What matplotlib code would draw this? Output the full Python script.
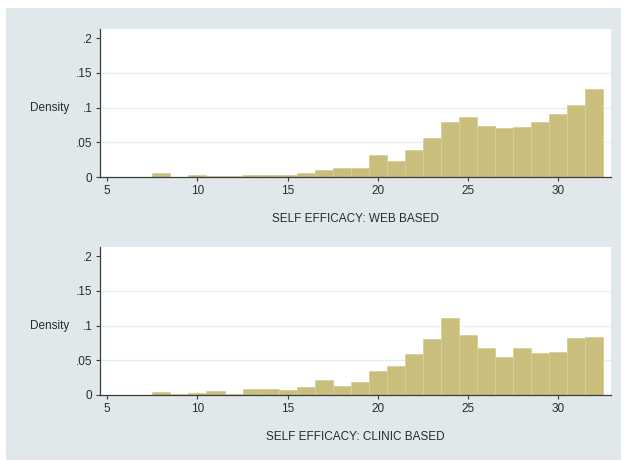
import matplotlib
matplotlib.use("Agg")
import matplotlib.pyplot as plt
from matplotlib.patches import Rectangle

plt.rcParams['font.family'] = ['Liberation Sans', 'DejaVu Sans']

# histogram bins (width 1), centres 8..32
bin_centers = [8, 9, 10, 11, 12, 13, 14, 15, 16, 17, 18, 19, 20,
               21, 22, 23, 24, 25, 26, 27, 28, 29, 30, 31, 32]

web_density = [0.0063, 0.0, 0.003, 0.0015, 0.0015, 0.0025, 0.0025, 0.0025,
               0.0058, 0.0096, 0.013, 0.013, 0.031, 0.023, 0.039, 0.056,
               0.079, 0.086, 0.074, 0.070, 0.072, 0.079, 0.091, 0.103, 0.126]

clinic_density = [0.0048, 0.002, 0.0034, 0.0058, 0.001, 0.0082, 0.009, 0.0067,
                  0.011, 0.022, 0.013, 0.019, 0.034, 0.042, 0.059, 0.080,
                  0.111, 0.086, 0.067, 0.055, 0.067, 0.061, 0.062, 0.082, 0.084]

x_ticks = [5, 10, 15, 20, 25, 30]
y_ticks = [0, 0.05, 0.1, 0.15, 0.2]
y_ticklabels = ['0', '.05', '.1', '.15', '.2']

panels = [
    (web_density, 'SELF EFFICACY: WEB BASED', 0.616),
    (clinic_density, 'SELF EFFICACY: CLINIC BASED', 0.1432),
]

W, H = 626, 461
fig = plt.figure(figsize=(W / 100, H / 100), dpi=100)
fig.patch.set_facecolor('white')
# light grey-blue graph region
fig.patches.append(Rectangle((6 / W, 1 - 460 / H), 615 / W, 452 / H,
                             transform=fig.transFigure, facecolor='#e0e8ec',
                             edgecolor='none', zorder=-10))

bar_color = '#c9be7b'
axis_color = '#3c3c3c'
text_color = '#2a2a2a'
fs = 8.5
ymax = 0.213

for dens, label, bottom in panels:
    ax = fig.add_axes([100 / W, bottom, 511 / W, 148 / H])
    ax.set_facecolor('white')
    for y in [0.05, 0.1, 0.15]:
        ax.axhline(y, color='#e6eef1', lw=1.0, zorder=1)
    ax.bar(bin_centers, dens, width=1.0, color=bar_color,
           edgecolor='#d7cf99', linewidth=0.6, zorder=2)
    ax.set_xlim(4.6, 32.92)
    ax.set_ylim(0, ymax)
    ax.set_xticks(x_ticks)
    ax.set_yticks(y_ticks)
    ax.set_yticklabels(y_ticklabels)
    ax.spines['top'].set_visible(False)
    ax.spines['right'].set_visible(False)
    for s in ['left', 'bottom']:
        ax.spines[s].set_color(axis_color)
        ax.spines[s].set_linewidth(0.9)
    ax.tick_params(axis='both', length=3, width=0.8, color=axis_color,
                   labelsize=fs, labelcolor=text_color, pad=2.5)
    ax.set_xlabel(label, fontsize=fs, color=text_color, labelpad=12)
    ax.set_ylabel('Density', fontsize=fs, color=text_color, rotation=0,
                  ha='right', va='center')
    ax.yaxis.set_label_coords(-0.060, 0.1 / ymax)

fig.savefig('out.png', dpi=100)
